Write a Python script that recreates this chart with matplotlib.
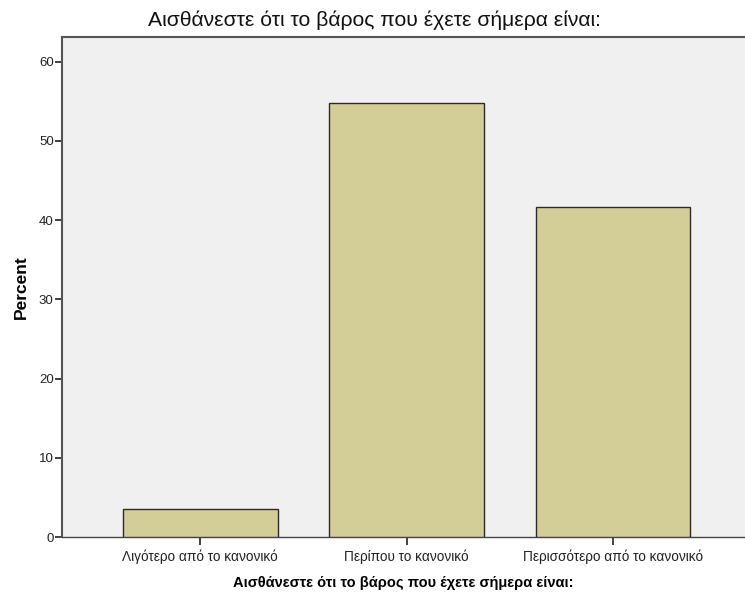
import matplotlib
matplotlib.use("Agg")
import matplotlib.pyplot as plt

plt.rcParams['font.family'] = ['Liberation Sans', 'DejaVu Sans']

categories = ["Λιγότερο από το κανονικό", "Περίπου το κανονικό", "Περισσότερο από το κανονικό"]
percent = [3.5, 54.8, 41.7]
yticks = [0, 10, 20, 30, 40, 50, 60]
title = "Αισθάνεστε ότι το βάρος που έχετε σήμερα είναι:"

fig = plt.figure(figsize=(7.45, 5.94), dpi=100)
ax = fig.add_axes([62/745, 1 - 537/594, (745 - 62)/745, (537 - 37)/594])
ax.set_facecolor('#F0F0F0')

x = list(range(len(categories)))
ax.bar(x, percent, width=0.75, color='#D3CE97', edgecolor='#2b2b2b', linewidth=1.0, zorder=3)

ax.set_xlim(-0.67, 2.64)
ax.set_ylim(0, 63.1)
ax.set_yticks(yticks)
ax.set_yticklabels([str(v) for v in yticks], fontsize=9.5, color='#222222')
ax.set_xticks(x)
ax.set_xticklabels(categories, fontsize=9.8, color='#222222')

ax.tick_params(axis='y', direction='out', length=5, width=1.3, color='#333333', pad=1)
ax.tick_params(axis='x', direction='out', length=6, width=1.3, color='#333333', pad=3)

for side in ['left', 'top']:
    ax.spines[side].set_color('#555555')
    ax.spines[side].set_linewidth(1.5)
ax.spines['bottom'].set_color('#444444')
ax.spines['bottom'].set_linewidth(1.0)
ax.spines['right'].set_visible(False)

ax.set_ylabel("Percent", fontsize=12.5, fontweight='bold', labelpad=7)
ax.set_xlabel(title, fontsize=10.5, fontweight='bold', labelpad=9)
fig.text(374/745, 1 - 20/594, title, ha='center', va='center', fontsize=15.2, color='#111111')

fig.savefig("out.png", dpi=100)
